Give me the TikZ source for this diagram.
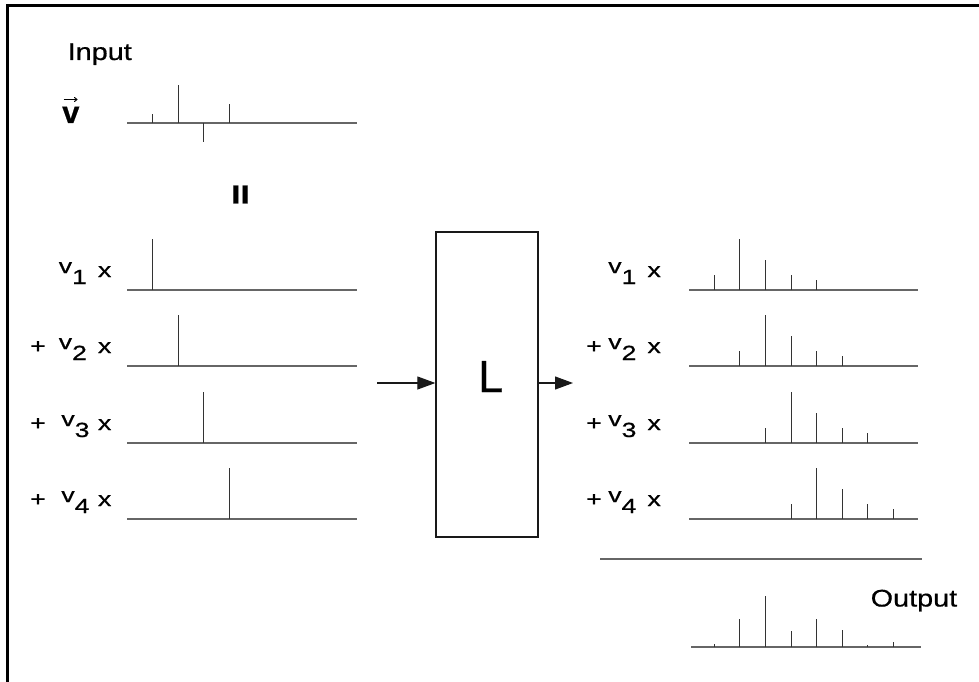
\documentclass[tikz,border=0pt]{standalone}
\usepackage{fontspec}
\setmainfont{Liberation Sans}[FakeBold=0.6]
\usepackage{graphicx}
\usetikzlibrary{arrows.meta}
\newcommand\widetext[1]{\scalebox{1.2}[1]{#1}}
\newcommand\labtext[1]{\scalebox{1.3}[1]{#1}}
\newcommand\vsub[1]{\raisebox{4pt}{v}\raisebox{-7pt}{#1}}
\begin{document}
\begin{tikzpicture}[x=1pt,y=-1pt,
  axisline/.style={line width=1.3pt, draw=black!60},
  stemline/.style={line width=1pt, draw=black!80},
  lbl/.style={inner sep=0pt, anchor=base east, font=\fontsize{20.5}{24}\selectfont},
  bigtext/.style={inner sep=0pt, anchor=base west, font=\fontsize{24}{28}\selectfont},
  arr/.style={line width=1.1pt, draw=black!90, -{Triangle[length=18pt,width=13pt]}},
  boxstyle/.style={draw=black!90, line width=1.3pt, minimum width=102pt, minimum height=305pt, inner sep=0pt}]
\useasboundingbox (0,0) rectangle (979,682);
% frame
\draw[line width=2.6pt, line join=miter] (7.5,682) -- (7.5,5.8) -- (979,5.8);

% input
\node[bigtext] (input) at (67.5,60) {\widetext{Input}};
\node[inner sep=0pt, anchor=base west, font=\fontsize{31}{33}\selectfont\bfseries] (vv) at (62,123) {v};
\coordinate (va) at (63.5,99.5);
\draw[line width=1pt, -{To[length=3.5pt,width=5pt]}] (va) -- ++(14,0);
\draw[axisline] (127,123) -- (357,123);
\draw[stemline] (152,123) -- (152,114);
\draw[stemline] (178,123) -- (178,85);
\draw[stemline] (203,123) -- (203,142);
\draw[stemline] (229,123) -- (229,104);

% equals
\node[inner sep=0pt, font=\fontsize{26}{28}\selectfont] (eq) at (240.5,194.5) {\scalebox{1.3}[1]{\bfseries II}};

% left rows
\foreach \y/\x in {290/152, 366/178, 443/203, 519/229} {
  \draw[axisline] (127,\y) -- (357,\y);
  \draw[stemline] (\x,\y) -- (\x,\y-51);
}
\node[lbl] (l1) at (111.5,277) {\labtext{\vsub{1}\hspace{8.5pt}x}};
\node[lbl] (l2) at (111.5,353) {\labtext{+\hspace{10pt}\vsub{2}\hspace{8.5pt}x}};
\node[lbl] (l3) at (111.5,430) {\labtext{+\hspace{12pt}\vsub{3}\hspace{6.5pt}x}};
\node[lbl] (l4) at (111.5,506) {\labtext{+\hspace{12pt}\vsub{4}\hspace{6.5pt}x}};

% system box
\node[boxstyle] (box) at (487,384.5) {};
\node[inner sep=0pt, anchor=base west, font=\fontsize{45}{48}\selectfont] (Ltext) at (478,392) {L};
\coordinate (inA) at (377,383);
\coordinate (outB) at (573,383);
\draw[arr] (inA) -- (inA -| box.west);
\draw[arr] (outB -| box.east) -- (outB);

% right rows
\foreach \r/\y in {0/290, 1/366, 2/443, 3/519} {
  \draw[axisline] (689,\y) -- (918,\y);
  \foreach \h [count=\i from 0] in {15.5,51,30.5,15,10} {
    \draw[stemline] ({714.3+25.6*(\i+\r)},\y) -- ++(0,-\h);
  }
}
\node[lbl] (r1) at (661,277) {\labtext{\vsub{1}\hspace{8.5pt}x}};
\node[lbl] (r2) at (661,353) {\labtext{+\hspace{5pt}\vsub{2}\hspace{8.5pt}x}};
\node[lbl] (r3) at (661,430) {\labtext{+\hspace{5pt}\vsub{3}\hspace{8.5pt}x}};
\node[lbl] (r4) at (661,506) {\labtext{+\hspace{5pt}\vsub{4}\hspace{8.5pt}x}};

% sum line and output
\draw[axisline] (600,559) -- (922,559);
\node[bigtext] (output) at (870.5,606.5) {\widetext{Output}};
\draw[axisline] (691,647) -- (921,647);
\foreach \h [count=\i from 0] in {3.5,28.5,51,16.5,28.5,17.5,2.5,5.5} {
  \draw[stemline] ({714.3+25.6*\i},647) -- ++(0,-\h);
}
\end{tikzpicture}
\end{document}
